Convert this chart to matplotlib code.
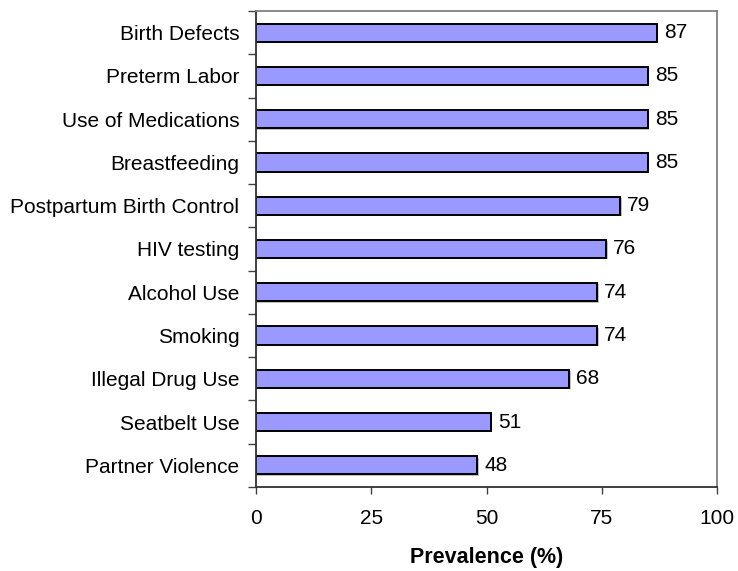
import matplotlib
matplotlib.use("Agg")
import matplotlib.pyplot as plt
from matplotlib.ticker import FixedLocator

plt.rcParams['font.family'] = ['Liberation Sans', 'DejaVu Sans']

categories = ["Birth Defects", "Preterm Labor", "Use of Medications", "Breastfeeding",
              "Postpartum Birth Control", "HIV testing", "Alcohol Use", "Smoking",
              "Illegal Drug Use", "Seatbelt Use", "Partner Violence"]
values = [87, 85, 85, 85, 79, 76, 74, 74, 68, 51, 48]
value_labels = ["87", "85", "85", "85", "79", "76", "74", "74", "68", "51", "48"]
x_ticks = [0, 25, 50, 75, 100]

fig = plt.figure(figsize=(7.38, 5.71), dpi=100)
ax = fig.add_axes([256/738, 1-487/571, (717-256)/738, (487-11)/571])

n = len(categories)
ypos = list(range(n - 1, -1, -1))

# soft shadow under each bar
ax.barh([y - 0.03 for y in ypos], values, height=0.42, left=0.3,
        color="#bfbfbf", edgecolor="none", zorder=1)
ax.barh(ypos, values, height=0.42, color="#9999ff", edgecolor="black",
        linewidth=1.4, zorder=2)

for y, v, t in zip(ypos, values, value_labels):
    ax.text(v + 1.5, y, t, va="center", ha="left", fontsize=15)

ax.set_xlim(0, 100)
ax.set_ylim(-0.5, n - 0.5)
ax.set_xticks(x_ticks)
ax.set_xticklabels([str(t) for t in x_ticks], fontsize=15)
ax.tick_params(axis="x", length=5, width=1, color="#404040", pad=11)

ax.set_yticks(ypos)
ax.set_yticklabels(categories, fontsize=15)
ax.tick_params(axis="y", length=0, pad=12)
ax.yaxis.set_minor_locator(FixedLocator([i - 0.5 for i in range(n + 1)]))
ax.tick_params(axis="y", which="minor", length=6, width=1, color="#404040")

for s in ["top", "right"]:
    ax.spines[s].set_color("#808080")
    ax.spines[s].set_linewidth(1.3)
for s in ["left", "bottom"]:
    ax.spines[s].set_color("#303030")
    ax.spines[s].set_linewidth(1.3)

ax.set_xlabel("Prevalence (%)", fontsize=15.5, fontweight="bold")
ax.xaxis.set_label_coords(0.5, -(558 - 487) / 476)
ax.xaxis.label.set_va("center")

fig.savefig("out.png", dpi=100)
